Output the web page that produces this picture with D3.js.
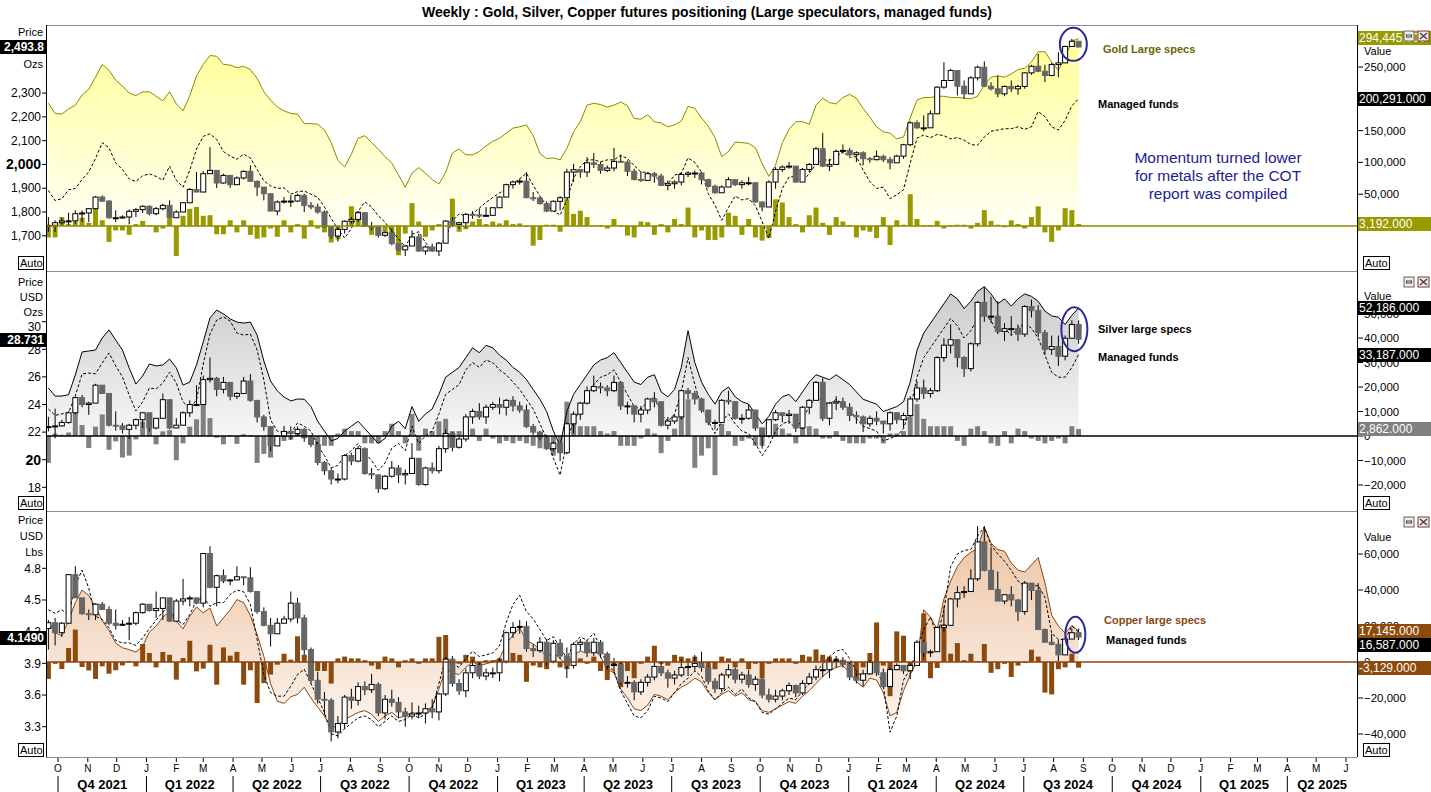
<!DOCTYPE html>
<html>
<head>
<meta charset="utf-8">
<script src="https://cdn.jsdelivr.net/npm/d3@7"></script>
<style>
  body { margin: 0; background: #fff; }
  text { font-family: "Liberation Sans", Arial, sans-serif; }
</style>
</head>
<body>
<svg id="chart" width="1431" height="792"></svg>
<script>
// weekly COT dates (Tuesdays), Sep 2021 - Aug 2024
var weeks = d3.timeTuesday.range(new Date(2021, 8, 21), new Date(2024, 7, 28));

// ---- Gold (price USD/oz, positions in thousands of contracts)
var goldOpen0 = 1744;
var goldClose = [1744,1755,1762,1763,1793,1796,1814,1863,1846,1776,1776,1779,1803,1810,1824,1793,1814,1828,1776,1800,1839,1895,1884,1961,1975,1922,1954,1915,1943,1971,1929,1905,1877,1804,1842,1846,1846,1870,1828,1821,1800,1737,1699,1727,1761,1769,1797,1739,1737,1702,1713,1667,1641,1657,1695,1636,1653,1636,1669,1762,1748,1755,1790,1788,1783,1786,1818,1863,1915,1926,1930,1860,1859,1835,1804,1845,1860,
  1968,1978,1968,2007,2000,1975,1985,2013,2010,1971,1937,1933,1961,1951,1912,1919,1926,1958,1964,1964,1936,1908,1881,1905,1936,1915,1923,1923,1842,1821,1926,1979,1989,1993,1926,1979,2000,2066,1993,2000,2055,2059,2041,2049,2024,2020,2034,2020,2007,2035,2083,2175,2154,2154,2213,2325,2353,2395,2329,2297,2364,2409,2329,2318,2297,2328,2318,2328,2385,2413,2392,2374,2420,2427,2496,2518,2493.8];
var goldHigh = [1779,1765,1776,1797,1807,1807,1817,1867,1870,1850,1807,1786,1811,1817,1828,1828,1821,1835,1849,1807,1842,1901,1968,1972,2073,1975,1961,1937,1950,1975,1996,1933,1901,1867,1849,1863,1870,1877,1877,1842,1835,1807,1737,1737,1765,1779,1803,1800,1758,1737,1718,1730,1667,1660,1723,1709,1660,1667,1674,1765,1779,1755,1796,1804,1814,1821,1821,1866,1919,1933,1940,1968,1884,1863,1845,1849,1867,
  1982,2003,1975,2031,2048,2010,1996,2070,2041,2017,1982,1971,1968,1968,1961,1933,1933,1968,1971,1975,1968,1940,1915,1912,1947,1937,1933,1947,1919,1845,1933,1989,1996,2010,1982,1985,2006,2073,2133,2024,2063,2084,2069,2055,2055,2031,2059,2041,2031,2041,2087,2181,2185,2206,2227,2328,2430,2402,2388,2353,2371,2416,2433,2346,2374,2332,2353,2335,2388,2419,2465,2419,2427,2472,2500,2528,2517];
var goldLow = [1716,1716,1747,1747,1751,1758,1758,1811,1842,1772,1758,1772,1748,1779,1796,1786,1786,1807,1772,1779,1800,1842,1884,1888,1975,1901,1919,1901,1915,1937,1926,1867,1849,1804,1786,1835,1821,1842,1800,1811,1793,1733,1688,1676,1709,1751,1758,1737,1723,1692,1695,1660,1636,1615,1657,1632,1620,1632,1615,1671,1737,1730,1733,1772,1775,1782,1800,1831,1863,1898,1915,1859,1846,1832,1800,1807,1807,
  1870,1926,1944,1947,1985,1961,1968,1971,2007,1951,1933,1926,1937,1923,1909,1891,1898,1912,1947,1943,1916,1902,1877,1884,1908,1909,1898,1912,1839,1803,1835,1898,1968,1982,1923,1930,1968,2003,1989,1972,2013,2045,2035,2010,1996,2007,2017,2010,1979,2007,2024,2077,2150,2139,2160,2223,2318,2353,2290,2276,2311,2353,2325,2311,2283,2287,2304,2293,2318,2377,2388,2346,2371,2367,2430,2500,2493];
var goldSpecs = [193,177,176,184,190,206,215,234,254,245,229,220,209,205,211,211,204,197,211,192,181,205,236,254,268,267,254,253,249,251,246,232,211,198,187,181,177,176,161,161,160,151,131,103,93,113,138,142,131,121,109,99,80,61,83,92,83,73,66,84,115,121,112,112,117,126,133,138,146,154,156,159,142,114,106,107,104,
  122,148,164,190,193,191,187,190,195,189,169,168,175,164,162,156,159,165,188,185,170,157,139,109,117,132,131,130,123,98,78,96,131,152,164,164,160,190,201,194,192,202,207,201,185,171,156,148,146,137,140,170,198,202,202,204,204,202,202,201,200,204,222,234,236,234,239,246,248,258,274,274,258,245,265,291,294.445];
var goldFunds = [56,40,43,57,59,73,85,106,131,123,99,89,74,70,79,82,78,72,94,72,61,88,121,141,145,136,117,110,105,113,107,89,71,63,59,60,50,54,55,50,45,30,12,-5,-19,-4,23,38,30,16,6,-8,-20,-33,-13,-9,-26,-39,-33,-18,8,19,16,19,28,37,45,52,58,67,74,83,64,47,32,24,17,
  41,75,93,104,104,101,104,104,111,106,95,85,84,79,69,66,80,83,107,100,85,51,33,9,29,47,41,43,32,7,-19,23,59,77,78,69,83,97,105,103,108,117,108,109,88,70,59,61,43,49,57,99,138,143,139,144,142,137,139,135,128,127,140,149,151,153,153,156,152,156,180,172,156,151,166,189,200.291];
var goldChange = [-18,-18,14,3,7,13,5,36,9,-25,-7,-7,-14,3,8,1,-10,-4,12,-47,16,27,30,16,17,-13,-13,9,-10,9,-14,-20,-18,-4,-17,9,-10,3,-20,9,-4,-10,-26,-21,3,31,23,2,-14,-12,-10,-25,-46,-12,36,7,-17,-7,3,4,43,-9,-5,7,11,3,7,4,9,3,4,-1,-31,-22,2,2,-9,
  42,19,24,14,1,1,-4,11,1,-15,-18,7,6,-14,3,-10,11,3,29,-18,-7,-22,-22,-18,21,16,-14,11,-18,-23,-19,42,37,14,3,-10,17,29,5,-14,14,7,1,-18,-7,-9,-19,14,-30,9,2,50,11,1,1,8,-4,1,2,2,-4,5,25,8,2,-2,9,3,-4,14,31,-10,-25,-7,28,25,3.192];

// ---- Silver (price USD/oz, positions in thousands of contracts)
var silverOpen0 = 22.35;
var silverClose = [22.4,22.45,22.7,23.4,24.5,24.0,24.1,25.4,24.8,22.5,22.45,22.2,22.5,22.9,23.4,22.3,23.0,24.35,22.3,22.5,23.4,24.0,24.0,25.8,25.9,25.1,25.6,24.6,24.8,25.7,24.3,23.1,22.4,21.0,21.7,22.05,21.9,22.2,
  21.6,21.1,19.8,19.2,18.6,18.6,20.3,19.9,20.8,19.0,18.9,17.9,18.8,19.4,18.9,19.0,20.1,18.2,19.4,19.2,20.8,21.9,20.9,21.5,23.1,23.5,23.1,23.8,24.0,23.8,24.3,23.9,23.6,22.4,22.0,21.6,20.8,21.2,20.5,22.6,23.3,24.1,25.0,25.3,25.2,25.0,25.6,23.9,23.9,23.3,23.6,24.4,24.2,22.5,22.8,23.1,25.0,24.8,24.4,23.6,22.7,22.7,24.3,24.2,23.0,23.0,23.6,22.3,21.7,22.9,23.4,23.2,23.3,22.3,23.8,24.3,25.6,23.0,24.1,24.2,23.8,23.2,23.1,22.6,23.0,22.8,22.6,23.4,22.9,23.2,24.4,25.2,24.8,25.0,27.4,28.3,28.7,27.4,26.6,28.4,31.4,30.4,30.4,29.3,29.5,29.5,29.1,31.1,30.8,29.2,28.0,28.2,27.5,28.8,29.8,28.731];
var silverHigh = [23.1,23.7,22.9,23.5,24.55,24.7,24.2,25.5,25.4,24.6,23.5,22.65,22.6,23.0,23.4,23.4,23.0,24.8,24.0,23.0,23.5,24.3,25.4,26.1,27.4,26.0,26.0,25.4,24.9,26.0,26.2,23.7,23.25,22.3,21.75,22.45,22.4,22.4,
  22.3,21.8,21.3,19.9,19.4,19.0,20.4,20.5,21.0,20.9,19.4,18.9,18.9,19.9,19.6,19.3,21.2,20.0,19.5,19.8,21.0,22.2,22.0,21.7,23.3,23.7,24.1,24.0,24.2,24.5,24.4,24.6,24.2,24.0,22.6,22.1,21.8,21.3,21.2,22.7,23.5,24.2,25.3,26.1,25.6,25.4,26.1,25.7,24.2,23.8,23.9,24.5,24.9,24.2,23.1,23.3,25.1,25.2,25.0,24.5,23.6,22.9,24.4,25.0,24.1,23.3,24.0,23.6,22.1,22.9,23.6,23.4,23.6,23.3,23.9,24.4,25.7,25.9,24.2,24.6,24.5,24.1,23.5,23.2,23.2,23.5,22.8,23.5,23.3,23.4,24.6,25.7,25.8,25.2,27.5,28.8,29.8,28.7,27.5,28.5,31.5,32.5,31.8,31.5,29.9,30.4,29.8,31.2,31.6,31.2,29.4,29.0,29.0,29.0,30.1,30.1];
var silverLow = [22.05,21.55,22.4,22.6,23.3,23.8,23.25,24.3,24.8,22.4,22.1,21.9,21.5,22.2,22.3,22.05,22.2,23.4,22.2,22.3,23.1,23.1,24.0,24.35,25.6,24.6,24.8,24.3,24.4,25.4,24.2,22.7,22.1,20.6,21.1,21.7,21.45,21.7,
  21.3,20.9,19.6,18.9,18.2,18.3,18.5,19.6,19.8,18.9,18.6,17.6,17.8,18.7,18.3,18.2,19.0,18.1,18.1,19.0,19.0,20.5,20.6,20.8,21.3,22.6,22.9,22.6,23.6,23.3,23.2,23.5,23.4,22.3,21.8,21.4,20.7,20.6,19.9,20.4,21.9,22.9,24.0,24.9,24.8,24.6,24.9,23.6,23.3,22.7,22.7,23.3,23.8,22.4,22.2,22.6,22.9,24.4,24.0,23.4,22.5,22.2,22.8,24.0,22.9,22.6,22.9,22.1,20.8,21.6,22.8,22.7,22.6,22.0,22.2,23.3,24.3,22.8,22.5,23.6,23.6,22.8,22.6,22.0,22.4,22.5,21.9,22.1,22.6,22.3,23.1,24.2,24.4,24.5,24.9,27.1,27.7,26.7,26.0,26.4,28.2,30.0,29.9,29.1,28.6,29.0,28.6,28.9,30.3,28.9,27.6,27.6,26.8,27.2,28.8,28.4];
var silverSpecs = [19.6,16.3,16.3,16.9,24.9,34.3,34.7,35.1,40,43.3,39.2,35.1,27.8,21.2,24.5,29.4,28.6,29,31.4,27.8,20.8,22,29,38.4,48.2,51.4,49.8,47.8,46.5,46.1,46.5,41.2,30.6,22.4,18.4,15.9,14.3,15.1,
  15,12,6,2,-2,-1,2,4,6,3,0,-3,-1,4,6,3,12,6,9,11,17,24,26,28,32,36,34,37,36,33,31,28,26,23,19,15,10,2,-4,10,17,21,25,29,31,32,34,30,26,22,21,24,25,18,16,19,28,43,30,22,17,13,18,20,16,14,13,9,5,8,13,16,17,14,18,22,25,24,23,25,23,21,18,15,14,13,10,11,12,14,22,35,42,46,50,54,58,56,52,55,59,61,58,54,56,53,56,58,57,55,51,49,48.5,45.5,49.3,52.186];
var silverFunds = [11,8.4,9,9.6,16.3,25.3,25.7,25.4,29.8,33.9,28.6,24.1,16.7,10.2,13.9,19.6,19.2,21.6,26.1,21.6,13.9,11.4,14.7,29.4,41.6,47.3,48.6,46.9,42,41.2,41.6,35.1,22.9,6.5,2,1.2,1.2,5.3,
  4,2,-4,-8,-13,-12,-8,-6,-3,-7,-10,-14,-11,-5,-3,-6,4,-3,0,2,9,17,19,21,27,30,28,31,30,27,25,22,19,15,11,5,-1,-9,-16,-2,6,11,16,21,24,25,27,22,17,12,11,14,16,9,6,9,18,32,21,12,6,1,6,9,5,2,1,-3,-8,-4,2,5,6,3,7,12,16,14,13,15,13,11,7,4,3,2,-2,-1,0,3,11,24,32,36,40,44,48,45,40,43,48,50,47,42,44,41,44,46,44,40,33,26,24,24,28,33.187];
var silverChange = [-11,1,0.5,1.4,12.7,4.5,-4.9,3.8,8.8,-5.6,-2.2,-8.8,-8,-1.4,5.9,9.2,-3.4,1.9,2.4,-9.9,-3,3.8,6.8,14.8,7.3,-0.7,-3.4,0.3,-3.2,0.7,0.3,-11,-7.3,-8.8,-2,-2,-1.5,1.6,
  -1,-3,-6,-4,-4,1,3,2,2,-3,-3,-3,2,5,2,-3,9,-6,3,2,6,7,2,2,5,3,-2,3,-1,-3,-2,-3,-2,-3,-4,-5,-5,-8,-6,14,7,4,4,4,2,1,2,-4,-4,-4,-1,3,1,-7,-2,3,9,15,-13,-8,-5,-16,5,2,-4,-2,-1,-4,-4,3,5,3,1,-3,4,4,3,-1,-1,2,-2,-3,-3,-3,-1,-1,-3,1,1,2,8,13,7,4,4,4,4,-2,-4,3,4,2,-3,-4,2,-3,3,2,-1,-2,-3,-2,-1,-3,4,2.862];

// ---- Copper (price USD/lb, positions in thousands of contracts)
var copperOpen0 = 4.23;
var copperClose = [4.285,4.19,4.28,4.74,4.52,4.37,4.36,4.46,4.41,4.28,4.26,4.27,4.28,4.38,4.46,4.40,4.42,4.52,4.30,4.49,4.51,4.52,4.47,4.94,4.62,4.73,4.68,4.69,4.72,4.71,4.58,4.39,4.26,4.18,4.28,4.32,4.47,4.33,
  4.03,3.74,3.56,3.55,3.25,3.33,3.58,3.55,3.68,3.65,3.70,3.43,3.56,3.53,3.44,3.40,3.42,3.43,3.47,3.44,3.61,3.94,3.71,3.64,3.81,3.88,3.78,3.81,3.81,3.92,4.19,4.24,4.25,4.04,4.02,4.10,3.92,4.09,3.97,3.88,4.08,4.10,4.00,4.10,3.99,3.88,3.89,3.72,3.72,3.63,3.72,3.77,3.87,3.81,3.76,3.79,3.86,3.87,3.90,3.86,3.73,3.66,3.79,3.84,3.75,3.79,3.70,3.75,3.60,3.56,3.59,3.64,3.69,3.62,3.71,3.77,3.84,3.84,3.92,3.93,3.89,3.77,3.74,3.80,3.91,3.81,
  3.68,3.84,3.88,3.83,3.88,4.10,4.00,4.01,4.24,4.26,4.51,4.57,4.58,4.70,5.05,4.78,4.60,4.49,4.55,4.50,4.39,4.66,4.59,4.22,4.10,4.08,3.98,4.13,4.19,4.149];
var copperHigh = [4.31,4.33,4.29,4.74,4.82,4.52,4.41,4.47,4.48,4.44,4.41,4.31,4.34,4.39,4.47,4.45,4.58,4.52,4.50,4.51,4.70,4.54,4.52,4.94,5.01,4.74,4.79,4.70,4.82,4.72,4.81,4.49,4.43,4.33,4.33,4.35,4.58,4.52,
  4.36,4.05,3.82,3.63,3.57,3.40,3.60,3.66,3.72,3.73,3.80,3.72,3.60,3.65,3.58,3.48,3.53,3.50,3.52,3.56,3.62,3.96,3.97,3.75,3.85,3.93,3.91,3.85,3.86,3.95,4.20,4.29,4.31,4.30,4.08,4.15,4.13,4.12,4.13,4.05,4.10,4.13,4.12,4.14,4.12,4.01,3.95,3.91,3.78,3.74,3.75,3.80,3.91,3.92,3.84,3.83,3.94,3.91,3.98,4.01,3.87,3.76,3.81,3.89,3.86,3.82,3.84,3.78,3.76,3.66,3.65,3.66,3.72,3.70,3.74,3.81,3.88,3.89,3.96,3.97,3.96,3.91,3.81,3.84,3.93,3.92,
  3.85,3.86,3.90,3.88,3.90,4.12,4.12,4.03,4.25,4.44,4.52,4.63,4.63,4.79,5.20,5.20,5.00,4.77,4.55,4.63,4.51,4.68,4.64,4.66,4.23,4.18,4.12,4.13,4.23,4.23];
var copperLow = [4.03,4.07,4.15,4.34,4.52,4.36,4.31,4.31,4.41,4.26,4.22,4.26,4.12,4.26,4.37,4.39,4.33,4.31,4.29,4.29,4.45,4.44,4.46,4.43,4.61,4.44,4.66,4.64,4.69,4.64,4.57,4.37,4.25,4.06,4.21,4.28,4.29,4.28,
  3.98,3.71,3.52,3.41,3.16,3.19,3.28,3.47,3.50,3.60,3.62,3.40,3.37,3.49,3.38,3.30,3.37,3.38,3.33,3.38,3.36,3.59,3.68,3.60,3.58,3.76,3.75,3.74,3.76,3.73,3.90,4.14,4.18,4.01,3.96,4.00,3.88,3.90,3.94,3.76,3.85,4.02,3.96,3.97,3.95,3.84,3.81,3.70,3.67,3.55,3.60,3.68,3.74,3.78,3.67,3.70,3.77,3.78,3.83,3.82,3.70,3.62,3.63,3.76,3.71,3.71,3.67,3.64,3.57,3.53,3.53,3.55,3.60,3.58,3.60,3.70,3.74,3.77,3.76,3.86,3.86,3.74,3.71,3.68,3.79,3.78,
  3.67,3.74,3.85,3.80,3.75,3.88,3.96,3.96,4.05,4.20,4.36,4.43,4.52,4.58,4.68,4.77,4.60,4.49,4.46,4.44,4.30,4.36,4.50,4.22,4.10,4.07,3.92,4.03,4.15,4.12];
var copperSpecs = [22.7,16.2,14.7,23,33,40,37,30.6,23,17.5,10.5,7.9,6.9,5.5,8.8,16.6,20,25,28,22.7,18.4,25.4,30.6,27.3,30,20,24.5,29,34.7,33,25.8,15.3,3.2,-12,-21.8,-23,-19.3,-18,
  -14,-20,-25,-30,-37,-35,-32,-30,-28,-27,-29,-33,-30,-28,-31,-30,-28,-29,-27,-25,-15,-4,-6,-7,-3,0,-2,-1,0,2,10,15,19,12,10,7,3,5,2,-2,4,6,5,8,3,-4,-6,-15,-20,-26,-27,-24,-18,-19,-21,-17,-14,-12,-9,-11,-17,-21,-18,-16,-19,-17,-21,-22,-27,-28,-26,-24,-22,-23,-19,-16,-12,-8,-5,-3,-2,-6,-11,-14,-9,-10,
  -17,-30,-28,-16,-7,0.5,29,25,18,35,45,53,58,61,63,75,66,62.5,61.5,55,51,50,54,58,44,26,20,16,20.3,17.145];
var copperFunds = [29,27,29,26,42.5,51,41,25.4,23.6,19,12,10.6,10.6,9.2,13.4,18.6,23.2,27.9,30,23.6,20.8,26.4,34,36,31,33,33,37.5,40,39,32,12.5,-7,-17,-19,-19,-13.4,-7,
  -4,-12,-20,-28,-40,-41,-37,-34,-31,-30,-32,-36,-33,-30,-33,-32,-29,-31,-29,-26,-12,2,-1,-3,2,6,3,4,5,9,22,32,37,28,24,18,12,14,8,2,10,14,12,16,8,-2,-5,-16,-23,-30,-31,-27,-19,-20,-22,-17,-12,-9,-5,-8,-16,-21,-17,-14,-18,-15,-20,-22,-28,-29,-26,-23,-20,-21,-16,-12,-6,-1,3,6,7,2,-5,-9,-3,-4,
  -13,-39,-30,-10,-4,7,18,25,14,29,53,60,62,62.5,70,75,65,60,56,51,45,42,42,42.5,36,16,12.5,12.5,20,16.587];
var copperChange = [-9.4,-1,-3.9,7.8,18,-2.8,-4.7,-9.4,-2.4,-6.5,-4.6,-1.9,0.5,-2.4,10,5,-3,5.6,4,-9.8,2.2,11.8,-5.2,-3.7,9.6,-12.6,8.1,3.5,5.6,-12.6,-4.6,-22.8,-11.7,-7,-1.5,4.6,1.3,14.3,
  4,-6,-5,-5,-12,2,3,2,2,1,-2,-4,3,2,-3,1,2,-1,2,2,14,15,-2,-1,4,3,-2,1,1,2,12,5,4,-11,-2,-3,-4,2,-3,-4,6,2,-1,3,-5,-10,-2,-14,-5,-9,-1,3,9,-1,-2,4,3,2,3,-2,-10,-4,3,2,-3,2,-4,-1,-9,-1,2,2,2,-1,4,3,7,4,3,2,1,-4,-9,-3,5,22,
  -2,-19,17,14.6,-3,2,27,-9,-3.3,20.8,4.6,10.5,1,4.6,0.5,10,-6,-4,-1,-8.3,-2,-0.5,6.8,3,-17,-18,-4,-3,4.6,-3.129];

// axis ticks
var goldPriceTicks = [1700, 1800, 1900, 2000, 2100, 2200, 2300];
var goldValueTicks = [0, 50000, 100000, 150000, 200000, 250000];
var silverPriceTicks = [18, 20, 22, 24, 26, 28, 30];
var silverValueTicks = [-20000, -10000, 0, 10000, 20000, 30000, 40000, 50000];
var copperPriceTicks = [3.3, 3.6, 3.9, 4.2, 4.5, 4.8];
var copperValueTicks = [-40000, -20000, 0, 20000, 40000, 60000];
var monthLetters = ["J","F","M","A","M","J","J","A","S","O","N","D"];

var svg = d3.select("#chart");
var defs = svg.append("defs");
var plotL = 46, plotR = 1357;

var x = d3.scaleTime()
  .domain([new Date(2021, 9, 1), new Date(2025, 5, 1)])
  .range([58, 1346]);

// title
svg.append("text")
  .attr("x", 707).attr("y", 17)
  .attr("text-anchor", "middle")
  .style("font-size", "14px").style("font-weight", "bold")
  .text("Weekly : Gold, Silver, Copper futures positioning (Large speculators, managed funds)");

var panels = [
  {
    id: "gold", top: 25, bottom: 270,
    price: d3.scaleLinear().domain([1700, 2300]).range([235.8, 93.1]),
    val: d3.scaleLinear().domain([0, 250000]).range([226, 67]),
    open0: goldOpen0, close: goldClose, high: goldHigh, low: goldLow,
    specs: goldSpecs, funds: goldFunds, change: goldChange,
    priceTicks: goldPriceTicks, valueTicks: goldValueTicks, hiddenValues: [0, 200000], boldTick: 2000,
    priceFmt: d3.format(","), units: [["Price", 32], ["Ozs", 64]],
    lastPrice: "2,493.8", lastPriceY: 47,
    lineColor: "#8b8b00", barColor: "#999900", gradTop: "#ffff9a", gradBottom: "#fffff6",
    gradY: [45, 228],
    boxes: [["294,445.000", 38, "#999900"], ["200,291.000", 99, "#000"], ["3,192.000", 224, "#999900"]],
    valueLabelY: 51
  },
  {
    id: "silver", top: 271, bottom: 510,
    price: d3.scaleLinear().domain([18, 30]).range([487.3, 321.7]),
    val: d3.scaleLinear().domain([0, 40000]).range([436, 338]),
    open0: silverOpen0, close: silverClose, high: silverHigh, low: silverLow,
    specs: silverSpecs, funds: silverFunds, change: silverChange,
    priceTicks: silverPriceTicks, valueTicks: silverValueTicks, hiddenValues: [], boldTick: 20,
    priceFmt: d3.format(""), units: [["Price", 282], ["USD", 297], ["Ozs", 312]],
    lastPrice: "28.731", lastPriceY: 340, nudge: {30: 5},
    lineColor: "#000", barColor: "#808080", gradTop: "#cbcbcb", gradBottom: "#f8f8f8",
    gradY: [290, 440],
    boxes: [["52,186.000", 308, "#000"], ["33,187.000", 355, "#000"], ["2,862.000", 429, "#808080"]],
    valueLabelY: 296
  },
  {
    id: "copper", top: 511, bottom: 757,
    price: d3.scaleLinear().domain([3.3, 4.8]).range([726.7, 568.3]),
    val: d3.scaleLinear().domain([-40000, 60000]).range([734, 554]),
    open0: copperOpen0, close: copperClose, high: copperHigh, low: copperLow,
    specs: copperSpecs, funds: copperFunds, change: copperChange,
    priceTicks: copperPriceTicks, valueTicks: copperValueTicks, hiddenValues: [], boldTick: null,
    priceFmt: d3.format(".1f"), units: [["Price", 520], ["USD", 536], ["Lbs", 552]],
    lastPrice: "4.1490", lastPriceY: 638,
    lineColor: "#8b4513", barColor: "#8c4a0c", gradTop: "#ecc3a2", gradBottom: "#fdf7f2",
    gradY: [525, 740],
    boxes: [["17,145.000", 631, "#8c4a0c"], ["16,587.000", 645, "#000"], ["-3,129.000", 668, "#8c4a0c"]],
    valueLabelY: 537
  }
];

panels.forEach(function(p) {
  // clip + gradient
  defs.append("clipPath").attr("id", p.id + "-clip")
    .append("rect").attr("x", plotL).attr("y", p.top)
    .attr("width", plotR - plotL).attr("height", p.bottom - p.top);
  var grad = defs.append("linearGradient").attr("id", p.id + "-grad")
    .attr("gradientUnits", "userSpaceOnUse")
    .attr("x1", 0).attr("x2", 0).attr("y1", p.gradY[0]).attr("y2", p.gradY[1]);
  grad.append("stop").attr("offset", 0).attr("stop-color", p.gradTop);
  grad.append("stop").attr("offset", 1).attr("stop-color", p.gradBottom);

  var g = svg.append("g").attr("clip-path", "url(#" + p.id + "-clip)");
  var rows = weeks.map(function(d, i) {
    var o = i === 0 ? p.open0 : p.close[i - 1];
    return {
      date: d, open: o, close: p.close[i], high: p.high[i], low: p.low[i],
      specs: p.specs[i] * 1000, funds: p.funds[i] * 1000, change: p.change[i] * 1000
    };
  });

  // large specs area
  var area = d3.area()
    .x(function(d) { return x(d.date); })
    .y0(p.val(0))
    .y1(function(d) { return p.val(d.specs); });
  g.append("path").datum(rows)
    .attr("d", area)
    .attr("fill", "url(#" + p.id + "-grad)");

  // weekly change bars
  g.selectAll(".bar").data(rows).enter().append("rect")
    .attr("x", function(d) { return x(d.date) - 2.5; })
    .attr("width", 5)
    .attr("y", function(d) { return Math.min(p.val(d.change), p.val(0)); })
    .attr("height", function(d) { return Math.max(1, Math.abs(p.val(d.change) - p.val(0))); })
    .attr("fill", p.barColor);

  // zero line
  svg.append("line")
    .attr("x1", plotL).attr("x2", plotR)
    .attr("y1", p.val(0)).attr("y2", p.val(0))
    .attr("stroke", p.lineColor).attr("stroke-width", 1.3);

  // lines
  var specLine = d3.line().x(function(d) { return x(d.date); }).y(function(d) { return p.val(d.specs); });
  var fundLine = d3.line().x(function(d) { return x(d.date); }).y(function(d) { return p.val(d.funds); });
  g.append("path").datum(rows).attr("d", specLine)
    .attr("fill", "none").attr("stroke", p.lineColor).attr("stroke-width", 1);
  g.append("path").datum(rows).attr("d", fundLine)
    .attr("fill", "none").attr("stroke", "#000").attr("stroke-width", 1)
    .attr("stroke-dasharray", "3,2");

  // candles
  var candles = g.selectAll(".candle").data(rows).enter().append("g");
  candles.append("line")
    .attr("x1", function(d) { return x(d.date); })
    .attr("x2", function(d) { return x(d.date); })
    .attr("y1", function(d) { return p.price(Math.max(d.high, d.open, d.close)); })
    .attr("y2", function(d) { return p.price(Math.min(d.low, d.open, d.close)); })
    .attr("stroke", "#000").attr("stroke-width", 1);
  candles.append("rect")
    .attr("x", function(d) { return x(d.date) - 2.5; })
    .attr("width", 5)
    .attr("y", function(d) { return p.price(Math.max(d.open, d.close)); })
    .attr("height", function(d) { return Math.max(1, Math.abs(p.price(d.open) - p.price(d.close))); })
    .attr("fill", function(d) { return d.close >= d.open ? "#fff" : "#666"; })
    .attr("stroke", function(d) { return d.close >= d.open ? "#000" : "#666"; })
    .attr("stroke-width", 1);

  // left price axis
  var left = svg.append("g");
  p.priceTicks.forEach(function(t) {
    var y = p.price(t);
    left.append("line").attr("x1", 42).attr("x2", plotL).attr("y1", y).attr("y2", y).attr("stroke", "#000");
    var bold = t === p.boldTick;
    left.append("text").attr("x", 41).attr("y", y + (p.nudge && p.nudge[t] ? p.nudge[t] : 0))
      .attr("dy", "0.35em").attr("text-anchor", "end")
      .style("font-size", bold ? "14px" : "12px").style("font-weight", bold ? "bold" : "normal")
      .text(p.priceFmt(t));
  });
  p.units.forEach(function(u) {
    left.append("text").attr("x", 43).attr("y", u[1]).attr("dy", "0.35em").attr("text-anchor", "end")
      .style("font-size", "11px").text(u[0]);
  });
  left.append("rect").attr("x", 0).attr("y", p.lastPriceY - 7).attr("width", plotL).attr("height", 14).attr("fill", "#000");
  left.append("text").attr("x", 44).attr("y", p.lastPriceY).attr("dy", "0.35em").attr("text-anchor", "end")
    .style("font-size", "12px").style("font-weight", "bold").attr("fill", "#fff").text(p.lastPrice);

  // right value axis
  var right = svg.append("g");
  p.valueTicks.forEach(function(t) {
    var y = p.val(t);
    right.append("line").attr("x1", plotR).attr("x2", plotR + 6).attr("y1", y).attr("y2", y).attr("stroke", "#000");
    if (p.hiddenValues.indexOf(t) < 0) {
      right.append("text").attr("x", plotR + 7).attr("y", y).attr("dy", "0.35em")
        .style("font-size", "11.5px").text(d3.format(",")(t));
    }
  });
  right.append("text").attr("x", 1364).attr("y", p.valueLabelY).attr("dy", "0.35em")
    .style("font-size", "11px").text("Value");

  // window icons
  var ic = svg.append("g").attr("transform", "translate(1404," + (p.top + 6) + ")");
  ic.append("rect").attr("width", 10).attr("height", 10).attr("fill", "#ececec").attr("stroke", "#666");
  ic.append("rect").attr("x", 2.5).attr("y", 4).attr("width", 5).attr("height", 2).attr("fill", "none").attr("stroke", "#444");
  ic.append("rect").attr("x", 14).attr("width", 11).attr("height", 10).attr("fill", "#ececec").attr("stroke", "#8b3030");
  ic.append("path").attr("d", "M16,2L23,8M23,2L16,8").attr("stroke", "#444").attr("stroke-width", 1.5);

  p.boxes.forEach(function(b) {
    right.append("rect").attr("x", plotR).attr("y", b[1] - 7).attr("width", 1431 - plotR).attr("height", 14).attr("fill", b[2]);
    right.append("text").attr("x", plotR + 2).attr("y", b[1]).attr("dy", "0.35em")
      .style("font-size", "12px").attr("fill", "#fff").text(b[0]);
  });

  // Auto boxes
  [[18, 25], [1363, 26]].forEach(function(a) {
    svg.append("rect").attr("x", a[0] + 0.5).attr("y", p.bottom - 13.5).attr("width", a[1]).attr("height", 13)
      .attr("fill", "#fff").attr("stroke", "#000");
    svg.append("text").attr("x", a[0] + 2).attr("y", p.bottom - 7).attr("dy", "0.35em")
      .style("font-size", "11px").text("Auto");
  });

  // panel top border
  svg.append("line").attr("x1", plotL).attr("x2", plotR).attr("y1", p.top + 0.5).attr("y2", p.top + 0.5)
    .attr("stroke", "#8c8c9c").attr("stroke-width", 1);
});

// frame lines
svg.append("line").attr("x1", plotL + 0.5).attr("x2", plotL + 0.5).attr("y1", 25).attr("y2", 757).attr("stroke", "#000");
svg.append("line").attr("x1", plotR + 0.5).attr("x2", plotR + 0.5).attr("y1", 25).attr("y2", 757).attr("stroke", "#000");
svg.append("line").attr("x1", plotL).attr("x2", plotR).attr("y1", 757.5).attr("y2", 757.5).attr("stroke", "#8c8c9c");

// x axis: months and quarters
var months = d3.timeMonth.range(new Date(2021, 9, 1), new Date(2025, 6, 1));
var xa = svg.append("g");
months.forEach(function(m) {
  var mx = x(m);
  xa.append("line").attr("x1", mx).attr("x2", mx).attr("y1", 758).attr("y2", 762).attr("stroke", "#000");
  xa.append("text").attr("x", mx).attr("y", 772).attr("text-anchor", "middle")
    .style("font-family", "'Liberation Sans Narrow', 'Liberation Sans', Arial, sans-serif")
    .style("font-size", "10px").text(monthLetters[m.getMonth()]);
});
var quarters = d3.timeMonth.range(new Date(2021, 9, 1), new Date(2025, 6, 1), 3);
quarters.forEach(function(q) {
  var qx = x(q);
  var qEnd = Math.min(x(d3.timeMonth.offset(q, 3)), plotR);
  xa.append("line").attr("x1", qx).attr("x2", qx).attr("y1", 776).attr("y2", 792).attr("stroke", "#000");
  xa.append("text").attr("x", (qx + qEnd) / 2).attr("y", 789).attr("text-anchor", "middle")
    .style("font-family", "'Liberation Sans Narrow', 'Liberation Sans', Arial, sans-serif")
    .style("font-size", "13px").style("font-weight", "bold")
    .text("Q" + (Math.floor(q.getMonth() / 3) + 1) + " " + q.getFullYear());
});

// series labels
function label(txt, lx, ly, color) {
  svg.append("text").attr("x", lx).attr("y", ly).attr("dy", "0.35em")
    .style("font-size", "11px").style("font-weight", "bold").attr("fill", color).text(txt);
}
label("Gold Large specs", 1103, 49, "#666600");
label("Managed funds", 1098, 104, "#000");
label("Silver large specs", 1098, 329, "#000");
label("Managed funds", 1098, 357, "#000");
label("Copper large specs", 1104, 620, "#8b4513");
label("Managed funds", 1106, 640, "#000");

// note
["Momentum turned lower", "for metals after the COT", "report was compiled"].forEach(function(t, i) {
  svg.append("text").attr("x", 1218).attr("y", 158 + i * 18).attr("dy", "0.35em")
    .attr("text-anchor", "middle").style("font-size", "15.5px").attr("fill", "#22228f").text(t);
});

// ellipses around the latest candles
var lastX = x(weeks[152]);
[[panels[0].price(2505), 13.5, 16.5], [panels[1].price(29.45), 13, 22], [panels[2].price(4.17), 10, 18]].forEach(function(e, i) {
  svg.append("ellipse").attr("cx", lastX + 1.5 + i).attr("cy", e[0]).attr("rx", e[1]).attr("ry", e[2])
    .attr("fill", "none").attr("stroke", "#2a2a9a").attr("stroke-width", 2);
});
</script>
</body>
</html>
